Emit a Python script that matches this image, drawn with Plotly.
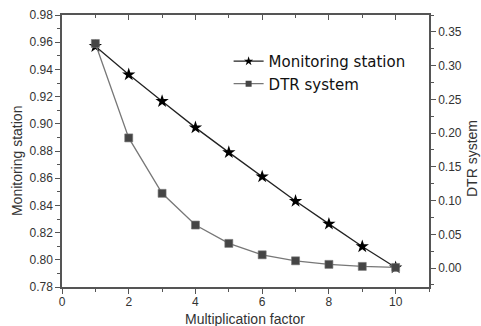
import plotly.graph_objects as go

factor = [1, 2, 3, 4, 5, 6, 7, 8, 9, 10]
monitoring = [0.957, 0.9362, 0.9166, 0.8972, 0.8790, 0.8611, 0.8432, 0.8264, 0.8098, 0.7943]
dtr = [0.3328, 0.1929, 0.1108, 0.0638, 0.0366, 0.0197, 0.0108, 0.0055, 0.0025, 0.001]
series_names = ["Monitoring station", "DTR system"]
x_title = "Multiplication factor"
y_title = "Monitoring station"
y2_title = "DTR system"

AX = "#555555"
TXT = "#333333"
TICKFONT = dict(family="Liberation Sans, Arial, sans-serif", size=12, color=TXT)
TITLEFONT = dict(family="Liberation Sans, Arial, sans-serif", size=14, color=TXT)

MON_LINE = dict(color="#222222", width=1.3)
DTR_LINE = dict(color="#777777", width=1.3)

fig = go.Figure()
fig.add_trace(go.Scatter(
    x=factor, y=monitoring, name=series_names[0], mode="lines+markers", showlegend=False,
    line=MON_LINE, marker=dict(symbol="star", size=10, color="#000000", line=dict(width=0)),
    yaxis="y", xaxis="x"))
fig.add_trace(go.Scatter(
    x=factor, y=dtr, name=series_names[1], mode="lines+markers", showlegend=False,
    line=DTR_LINE, marker=dict(symbol="square", size=8, color="#454545", line=dict(width=0.6, color="#777777")),
    yaxis="y2", xaxis="x"))
# legend entries with smaller symbols
fig.add_trace(go.Scatter(
    x=[None], y=[None], name=series_names[0], mode="lines+markers",
    line=MON_LINE, marker=dict(symbol="star", size=7, color="#000000", line=dict(width=0))))
fig.add_trace(go.Scatter(
    x=[None], y=[None], name=series_names[1], mode="lines+markers",
    line=DTR_LINE, marker=dict(symbol="square", size=6, color="#454545", line=dict(width=0))))
# invisible trace to draw the mirrored top axis
fig.add_trace(go.Scatter(x=[], y=[], xaxis="x2", yaxis="y", showlegend=False, hoverinfo="skip"))

fig.update_layout(
    width=481, height=326,
    margin=dict(l=62, r=52, t=15, b=39, autoexpand=False),
    paper_bgcolor="white", plot_bgcolor="white",
    showlegend=True,
    legend=dict(x=0.454, y=0.89, xanchor="left", yanchor="top",
                font=dict(family="DejaVu Sans, Verdana, sans-serif", size=15, color="#111111"),
                bgcolor="rgba(0,0,0,0)", itemwidth=30, tracegroupgap=0),
    xaxis=dict(range=[0, 11], dtick=2, tick0=0, showline=True, linecolor=AX, linewidth=1.5,
               ticks="outside", ticklen=5, tickcolor=AX, tickwidth=1.2, automargin=False,
               ticklabelstandoff=-2,
               minor=dict(dtick=1, tick0=0, ticks="outside", ticklen=3, tickcolor=AX),
               showgrid=False, zeroline=False, tickfont=TICKFONT),
    xaxis2=dict(range=[0, 11], overlaying="x", side="top", dtick=2, tick0=0, showline=True,
                linecolor=AX, linewidth=1.5, ticks="inside", ticklen=5, tickcolor=AX, tickwidth=1.2,
                minor=dict(dtick=1, tick0=0, ticks="inside", ticklen=3, tickcolor=AX),
                showticklabels=False, showgrid=False, zeroline=False, automargin=False),
    yaxis=dict(range=[0.78, 0.98], dtick=0.02, tick0=0.78, tickformat=".2f", showline=True,
               linecolor=AX, linewidth=1.5, ticks="outside", ticklen=5, tickcolor=AX, tickwidth=1.2,
               minor=dict(dtick=0.01, ticks="outside", ticklen=3, tickcolor=AX),
               showgrid=False, zeroline=False, tickfont=TICKFONT, automargin=False),
    yaxis2=dict(range=[-0.028, 0.375], dtick=0.05, tick0=0, tickformat=".2f", overlaying="y",
                side="right", showline=True, linecolor=AX, linewidth=1.5, ticks="outside",
                ticklen=5, tickcolor=AX, tickwidth=1.2, automargin=False,
                minor=dict(dtick=0.025, ticks="outside", ticklen=3, tickcolor=AX),
                showgrid=False, zeroline=False, tickfont=TICKFONT),
    annotations=[
        dict(text=x_title, xref="paper", yref="paper", x=0.4986, y=-0.117,
             xanchor="center", yanchor="middle", showarrow=False, font=TITLEFONT),
        dict(text=y_title, xref="paper", yref="paper", x=-0.1226, y=0.463, textangle=-90,
             xanchor="center", yanchor="middle", showarrow=False, font=TITLEFONT),
        dict(text=y2_title, xref="paper", yref="paper", x=1.117, y=0.474, textangle=-90,
             xanchor="center", yanchor="middle", showarrow=False, font=TITLEFONT),
    ],
)

fig.write_html("out.html")
